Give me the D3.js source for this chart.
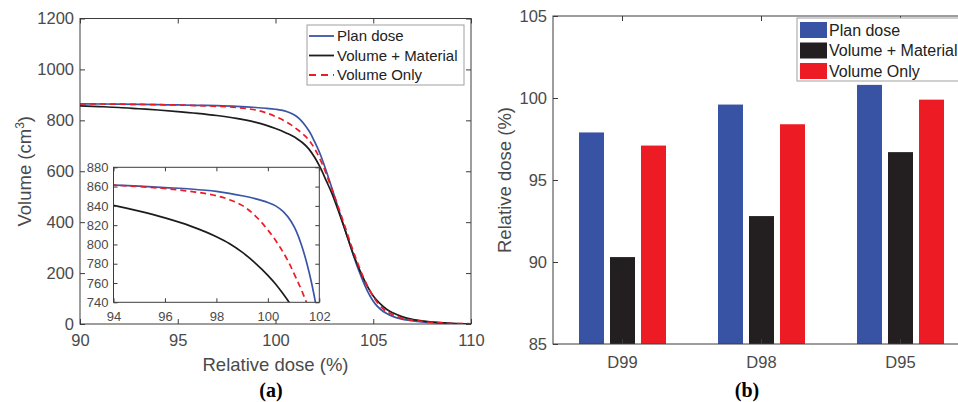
<!DOCTYPE html>
<html>
<head>
<meta charset="utf-8">
<script src="https://cdn.jsdelivr.net/npm/d3@7"></script>
<style>
    body { margin: 0; background: #fff; }
    svg { display: block; font-family: "Liberation Sans", Arial, sans-serif; }
</style>
</head>
<body>
<svg id="chart" width="958" height="402"></svg>
<script>
// ---------- data ----------
let seriesNames = ["Plan dose", "Volume + Material", "Volume Only"];

// (a) cumulative DVH, [relative dose %, volume cm3]
let planDose = [[90, 865], [92, 863.5], [94, 861.5], [95, 860.5], [96, 859], [97, 857.5], [98, 855], [98.5, 853],
    [99, 850.5], [99.5, 847.5], [100, 843.5], [100.3, 840], [100.6, 834], [100.9, 824], [101.1, 814], [101.3, 800],
    [101.5, 782], [101.7, 760], [101.85, 740], [102, 716], [102.3, 665], [102.6, 600], [102.9, 530], [103.2, 458],
    [103.5, 385], [103.8, 313], [104, 266], [104.24, 214], [104.58, 150], [104.85, 108], [105.09, 80], [105.4, 56],
    [105.69, 41], [106, 30], [106.37, 21], [106.96, 13], [107.5, 8], [108.2, 4.5], [109, 2], [110, 1]];
let volumeMaterial = [[90, 857], [91, 854], [92, 850.5], [93, 845.5], [94, 840.5], [95, 834.5], [96, 827.5],
    [97, 819], [98, 808], [98.5, 801], [99, 792], [99.5, 781], [100, 768], [100.3, 759], [100.6, 748.5],
    [100.85, 739], [101.1, 728], [101.4, 711], [101.7, 688], [102, 655], [102.3, 613], [102.6, 562], [102.9, 510],
    [103.2, 448], [103.5, 382], [103.8, 314], [104, 270], [104.32, 210], [104.71, 147], [105, 110], [105.35, 80],
    [105.7, 57], [106.03, 43], [106.5, 28], [107, 18], [107.6, 11], [108.3, 6], [109, 3], [110, 1]];
let volumeOnly = [[90, 865], [92, 863.5], [94, 861.5], [95, 860], [96, 858], [97, 855], [98, 850.5], [98.5, 846.5],
    [99, 840.5], [99.5, 830], [100, 815], [100.5, 796], [100.8, 782], [101.1, 765], [101.35, 750], [101.55, 736],
    [101.8, 713], [102.1, 675], [102.4, 627], [102.7, 568], [103, 505], [103.3, 440], [103.6, 372], [103.9, 303],
    [104.2, 240], [104.5, 183], [104.8, 135], [105.2, 85], [105.5, 60], [105.9, 40], [106.3, 27], [106.9, 16],
    [107.6, 9], [108.3, 5], [109, 2], [110, 1]];

let mainXTicks = [90, 95, 100, 105, 110];
let mainYTicks = [0, 200, 400, 600, 800, 1000, 1200];
let insetXTicks = [94, 96, 98, 100, 102];
let insetYTicks = [740, 760, 780, 800, 820, 840, 860, 880];

// (b) dose metrics
let barCategories = ["D99", "D98", "D95"];
let planBar = [97.9, 99.6, 100.8];
let volumeMaterialBar = [90.3, 92.8, 96.7];
let volumeOnlyBar = [97.1, 98.4, 99.9];
let barYTicks = [85, 90, 95, 100, 105];

// ---------- styles ----------
let lineColors = ["#3a55a6", "#1c1c1c", "#ec1c24"];
let barColors = ["#3953a4", "#231f20", "#ed1c24"];
let axisColor = "#3c3c3c";
let textColor = "#4a4a4a";

let svg = d3.select("#chart");


function boxAxes(parent, x, y, xTicks, yTicks, tick, fontSize, xPad, yPad)
{
    let [x0, x1] = x.range();
    let [y0, y1] = y.range();
    let g = parent.append("g");
    let fmt = d => String(d);

    let parts = [
        [d3.axisBottom(x).tickPadding(xPad).tickFormat(fmt), `translate(0,${y0})`],
        [d3.axisTop(x).tickFormat(""), `translate(0,${y1})`],
        [d3.axisLeft(y).tickPadding(yPad).tickFormat(fmt), `translate(${x0},0)`],
        [d3.axisRight(y).tickFormat(""), `translate(${x1},0)`]
    ];
    parts.forEach(([axis, tr], i) =>
    {
        axis.tickValues(i < 2 ? xTicks : yTicks).tickSizeInner(-tick).tickSizeOuter(0);
        g.append("g")
            .attr("transform", tr)
            .call(axis)
            .attr("font-size", fontSize)
            .attr("font-family", null);
    });

    g.selectAll(".domain").remove();
    g.selectAll(".tick line").attr("stroke", axisColor);
    g.selectAll(".tick text").attr("fill", textColor);

    g.append("rect")
        .attr("x", x0).attr("y", y1)
        .attr("width", x1 - x0).attr("height", y0 - y1)
        .attr("fill", "none")
        .attr("stroke", axisColor)
        .attr("stroke-width", 1);
    return g;
}


function drawCurves(parent, x, y, clipId)
{
    let [x0, x1] = x.range();
    let [y0, y1] = y.range();
    svg.append("clipPath").attr("id", clipId)
        .append("rect").attr("x", x0).attr("y", y1).attr("width", x1 - x0).attr("height", y0 - y1);

    let line = d3.line()
        .x(d => x(d[0]))
        .y(d => y(d[1]))
        .curve(d3.curveMonotoneX);

    parent.append("g")
        .attr("clip-path", `url(#${clipId})`)
        .selectAll("path")
        .data([planDose, volumeMaterial, volumeOnly])
        .join("path")
        .attr("d", line)
        .attr("fill", "none")
        .attr("stroke", (d, i) => lineColors[i])
        .attr("stroke-width", 1.7)
        .attr("stroke-dasharray", (d, i) => i === 2 ? "6,4" : null);
}


// ================= (a) =================
let xMain = d3.scaleLinear([90, 110], [80, 471]);
let yMain = d3.scaleLinear([0, 1200], [324, 18.5]);
let xInset = d3.scaleLinear([94, 102], [113.5, 319.3]);
let yInset = d3.scaleLinear([740, 880], [302.3, 167.3]);

drawCurves(svg, xMain, yMain, "clipMain");
boxAxes(svg, xMain, yMain, mainXTicks, mainYTicks, 5, 16.5, 10, 6);

// inset
let inset = svg.append("g");
inset.append("rect")
    .attr("x", xInset.range()[0]).attr("y", yInset.range()[1])
    .attr("width", xInset.range()[1] - xInset.range()[0])
    .attr("height", yInset.range()[0] - yInset.range()[1])
    .attr("fill", "#fff");
drawCurves(inset, xInset, yInset, "clipInset");
boxAxes(inset, xInset, yInset, insetXTicks, insetYTicks, 4, 13, 9, 5);

svg.append("text")
    .attr("x", xMain(100)).attr("y", 371)
    .attr("text-anchor", "middle")
    .attr("fill", textColor)
    .style("font-size", "18.5px")
    .text("Relative dose (%)");

let yLabA = svg.append("text")
    .attr("transform", `translate(31,${(yMain.range()[0] + yMain.range()[1]) / 2}) rotate(-90)`)
    .attr("text-anchor", "middle")
    .attr("fill", textColor)
    .style("font-size", "18.5px");
yLabA.append("tspan").text("Volume (cm");
yLabA.append("tspan").attr("dy", -7).style("font-size", "12px").text("3");
yLabA.append("tspan").attr("dy", 7).text(")");

// legend (a)
let legA = svg.append("g").attr("transform", "translate(307,25)");
legA.append("rect")
    .attr("width", 157).attr("height", 60)
    .attr("fill", "#fff").attr("stroke", "#a0a0a0");
let legAItems = legA.selectAll("g.item")
    .data(seriesNames)
    .join("g")
    .attr("class", "item")
    .attr("transform", (d, i) => `translate(0,${11 + i * 19.5})`);
legAItems.append("line")
    .attr("x1", 2).attr("x2", 27)
    .attr("stroke", (d, i) => lineColors[i])
    .attr("stroke-width", 1.8)
    .attr("stroke-dasharray", (d, i) => i === 2 ? "7,5" : null);
legAItems.append("text")
    .attr("x", 30).attr("dy", "0.35em")
    .attr("fill", "#222")
    .style("font-size", "15px")
    .text(d => d);

svg.append("text")
    .attr("x", 271).attr("y", 397)
    .attr("text-anchor", "middle")
    .style("font-family", "'Liberation Serif', 'Times New Roman', serif")
    .style("font-weight", "bold")
    .style("font-size", "20px")
    .text("(a)");


// ================= (b) =================
let xBar = d3.scaleBand(barCategories, [553, 970]);
let yBar = d3.scaleLinear([85, 105], [344, 16]);
let xSub = d3.scaleBand(d3.range(seriesNames.length), [-43.5, 43.5]).paddingInner(0.194);

let barValues = [planBar, volumeMaterialBar, volumeOnlyBar];
let barData = barCategories.flatMap((cat, c) => barValues.map((vals, s) => ({cat: cat, series: s, value: vals[c]})));

svg.append("g")
    .selectAll("rect")
    .data(barData)
    .join("rect")
    .attr("x", d => xBar(d.cat) + xBar.bandwidth() / 2 + xSub(d.series))
    .attr("width", xSub.bandwidth())
    .attr("y", d => yBar(d.value))
    .attr("height", d => yBar(85) - yBar(d.value))
    .attr("fill", d => barColors[d.series]);

boxAxes(svg, xBar, yBar, barCategories, barYTicks, 5, 16.5, 12, 6);

svg.append("text")
    .attr("transform", `translate(511,${(yBar.range()[0] + yBar.range()[1]) / 2}) rotate(-90)`)
    .attr("text-anchor", "middle")
    .attr("fill", textColor)
    .style("font-size", "18.5px")
    .text("Relative dose (%)");

// legend (b)
let legB = svg.append("g").attr("transform", "translate(797,18)");
legB.append("rect")
    .attr("width", 180).attr("height", 63)
    .attr("fill", "#fff").attr("stroke", "#a0a0a0");
let legBItems = legB.selectAll("g.item")
    .data(seriesNames)
    .join("g")
    .attr("class", "item")
    .attr("transform", (d, i) => `translate(0,${12 + i * 20.5})`);
legBItems.append("rect")
    .attr("x", 3).attr("y", -8)
    .attr("width", 27).attr("height", 16)
    .attr("fill", (d, i) => barColors[i]);
legBItems.append("text")
    .attr("x", 32).attr("dy", "0.35em")
    .attr("fill", "#222")
    .style("font-size", "16px")
    .text(d => d);

svg.append("text")
    .attr("x", 747).attr("y", 397)
    .attr("text-anchor", "middle")
    .style("font-family", "'Liberation Serif', 'Times New Roman', serif")
    .style("font-weight", "bold")
    .style("font-size", "20px")
    .text("(b)");
</script>
</body>
</html>
